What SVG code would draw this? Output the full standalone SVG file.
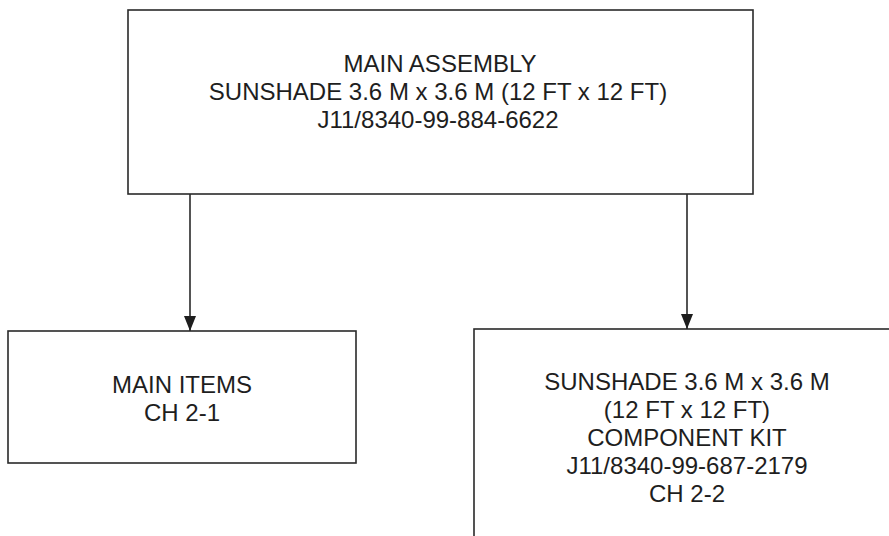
<svg xmlns="http://www.w3.org/2000/svg" width="889" height="536" viewBox="0 0 889 536">
<style>
.box{fill:#fff;stroke:#2a2a2a;stroke-width:1.6}
.t{font-family:"Liberation Sans",Arial,sans-serif;font-size:24px;fill:#1e1e1e;text-anchor:middle}
.c{stroke:#2a2a2a;stroke-width:1.6;fill:none}
</style>
<defs>
<marker id="arr" markerUnits="userSpaceOnUse" markerWidth="15" markerHeight="12" refX="15" refY="6" orient="auto" viewBox="0 0 15 12">
<path d="M0,0 L15,6 L0,12 Z" fill="#1e1e1e"/>
</marker>
</defs>
<rect width="889" height="536" fill="#fff"/>
<g id="main-assembly">
<rect class="box" x="128" y="10" width="625" height="184"/>
<text class="t" x="440" y="72">MAIN ASSEMBLY</text>
<text class="t" x="438" y="100">SUNSHADE 3.6 M x 3.6 M (12 FT x 12 FT)</text>
<text class="t" x="438" y="128">J11/8340-99-884-6622</text>
</g>
<g id="main-items">
<rect class="box" x="8" y="331" width="348" height="132"/>
<text class="t" x="182" y="393">MAIN ITEMS</text>
<text class="t" x="182" y="421">CH 2-1</text>
</g>
<g id="component-kit">
<rect class="box" x="474" y="329" width="440" height="230"/>
<text class="t" x="687" y="390">SUNSHADE 3.6 M x 3.6 M</text>
<text class="t" x="687" y="418">(12 FT x 12 FT)</text>
<text class="t" x="687" y="446">COMPONENT KIT</text>
<text class="t" x="687" y="474">J11/8340-99-687-2179</text>
<text class="t" x="687" y="502">CH 2-2</text>
</g>
<g id="connectors">
<line class="c" x1="190" y1="194" x2="190" y2="331" marker-end="url(#arr)"/>
<line class="c" x1="687" y1="194" x2="687" y2="329" marker-end="url(#arr)"/>
</g>
</svg>
